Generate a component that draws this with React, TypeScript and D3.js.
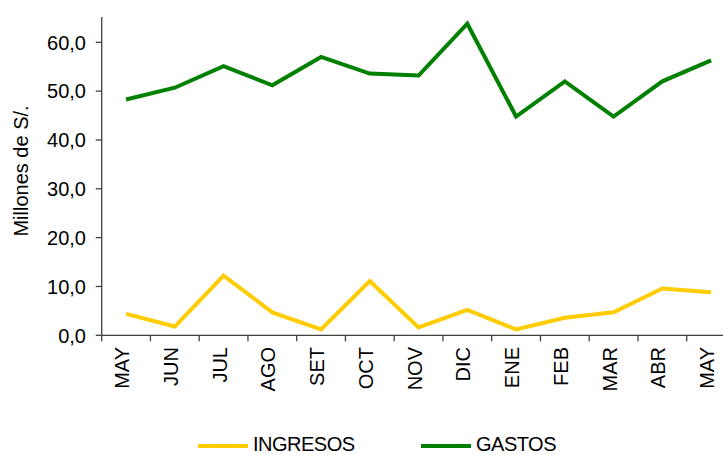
import React from "react";
import * as d3 from "d3";

const months = ["MAY", "JUN", "JUL", "AGO", "SET", "OCT", "NOV", "DIC", "ENE", "FEB", "MAR", "ABR", "MAY"];
const ingresos = [4.4, 1.8, 12.2, 4.7, 1.2, 11.1, 1.6, 5.2, 1.2, 3.6, 4.7, 9.6, 8.8];
const gastos = [48.3, 50.7, 55.1, 51.2, 57.0, 53.6, 53.2, 63.8, 44.8, 52.0, 44.8, 52.0, 56.3];
const yTicks = [0, 10, 20, 30, 40, 50, 60];
const seriesNames = ["INGRESOS", "GASTOS"];
const seriesColors = ["#FFCC00", "#008000"];

export default function App() {
  const W = 723, H = 455;
  const x0 = 101.7, band = 48.75;
  const keys = months.map((_, i) => String(i));
  const x = d3.scaleBand<string>().domain(keys).range([x0, x0 + band * months.length]);
  const y = d3.scaleLinear().domain([0, 60]).range([335.3, 42.3]);
  const cx = (i: number) => (x(String(i)) as number) + x.bandwidth() / 2;
  const line = d3.line<number>().x((_, i) => cx(i)).y((d) => y(d));
  const font = "Liberation Sans, Arial, sans-serif";
  const axisColor = "#404040";
  const data = [ingresos, gastos];
  const legendX = [198, 421];

  return (
    <svg width={W} height={H} style={{ position: "absolute", left: 0, top: 0 }} fontFamily={font}>
      <rect width={W} height={H} fill="#fff" />
      {/* Y axis */}
      <line x1={x0} x2={x0} y1={17} y2={y(0)} stroke={axisColor} strokeWidth={1.3} />
      {yTicks.map((t) => (
        <g key={t}>
          <line x1={x0 - 6} x2={x0} y1={y(t)} y2={y(t)} stroke={axisColor} strokeWidth={1.3} />
          <text x={86} y={y(t)} dy="0.36em" textAnchor="end" fontSize={20} fill="#000">
            {d3.format(".1f")(t).replace(".", ",")}
          </text>
        </g>
      ))}
      {/* X axis */}
      <line x1={x0} x2={W} y1={y(0)} y2={y(0)} stroke={axisColor} strokeWidth={1.3} />
      {months.map((_, i) => (
        <line key={"t" + i} x1={x0 + band * i} x2={x0 + band * i} y1={y(0)} y2={y(0) + 6} stroke={axisColor} strokeWidth={1.3} />
      ))}
      {months.map((m, i) => (
        <text
          key={"l" + i}
          transform={`translate(${cx(i) + 3},347) rotate(-90)`}
          textAnchor="end"
          fontSize={20}
          fill="#000"
        >
          {m}
        </text>
      ))}
      {/* Y title */}
      <text transform="translate(28,171) rotate(-90)" textAnchor="middle" fontSize={20} fill="#000">
        Millones de S/.
      </text>
      {/* Lines */}
      {data.map((d, k) => (
        <path key={k} d={line(d) || ""} fill="none" stroke={seriesColors[k]} strokeWidth={4} strokeLinejoin="miter" />
      ))}
      {/* Legend */}
      {seriesNames.map((n, k) => (
        <g key={n}>
          <line x1={legendX[k]} x2={legendX[k] + 50} y1={446} y2={446} stroke={seriesColors[k]} strokeWidth={4} />
          <text x={legendX[k] + 55} y={451} fontSize={20} fill="#000" letterSpacing={-0.5}>
            {n}
          </text>
        </g>
      ))}
    </svg>
  );
}
